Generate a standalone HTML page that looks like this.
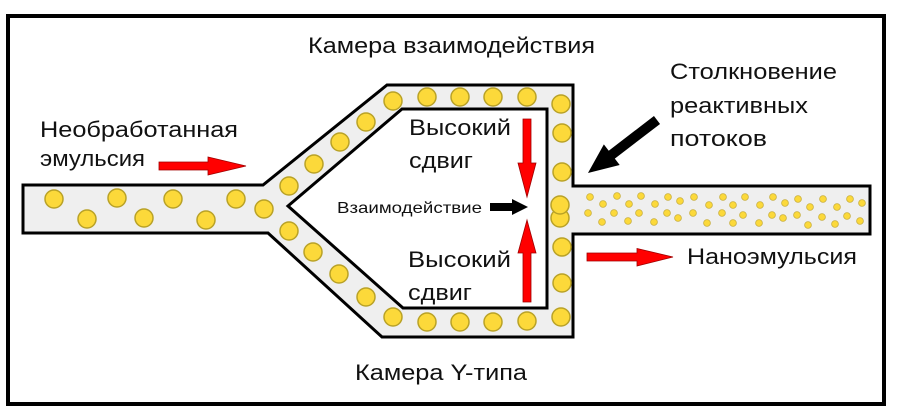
<!DOCTYPE html>
<html><head><meta charset="utf-8"><style>
html,body{margin:0;padding:0;background:#fff;}
svg{display:block;}
text{font-family:"Liberation Sans","DejaVu Sans",sans-serif;fill:#111;}
</style></head><body>
<svg width="900" height="416" viewBox="0 0 900 416" xmlns="http://www.w3.org/2000/svg">
<rect x="0" y="0" width="900" height="416" fill="#fff"/>
<rect x="8" y="16" width="876" height="388" fill="none" stroke="#000" stroke-width="4"/>

<!-- channel -->
<path fill-rule="evenodd" fill="#efefef" stroke="#000" stroke-width="3" stroke-linejoin="miter"
 d="M23,185 L263,185 L387,85 L573,85 L573,186 L870,186 L870,234 L573,234 L573,337 L382,337 L268,233 L23,233 Z
    M288,206 L402,109 L547,109 L547,308 L403,308 Z"/>

<g fill="#fcd93a" stroke="#b9a227" stroke-width="1.5">
<circle cx="54" cy="199" r="9"/>
<circle cx="87" cy="219" r="9"/>
<circle cx="117" cy="198" r="9"/>
<circle cx="144" cy="218" r="9"/>
<circle cx="173" cy="199" r="9"/>
<circle cx="206" cy="220" r="9"/>
<circle cx="236" cy="199" r="9"/>
<circle cx="264" cy="209" r="9"/>
<circle cx="289" cy="186" r="9"/>
<circle cx="314" cy="164" r="9"/>
<circle cx="340" cy="142" r="9"/>
<circle cx="366" cy="122" r="9"/>
<circle cx="393" cy="101" r="9"/>
<circle cx="427" cy="97" r="9"/>
<circle cx="460" cy="97" r="9"/>
<circle cx="493" cy="97" r="9"/>
<circle cx="527" cy="97" r="9"/>
<circle cx="561" cy="104" r="9"/>
<circle cx="562" cy="133" r="9"/>
<circle cx="562" cy="172" r="9"/>
<circle cx="560" cy="218" r="9"/>
<circle cx="560" cy="205" r="9"/>
<circle cx="562" cy="247" r="9"/>
<circle cx="562" cy="283" r="9"/>
<circle cx="561" cy="317" r="9"/>
<circle cx="527" cy="321" r="9"/>
<circle cx="493" cy="322" r="9"/>
<circle cx="460" cy="322" r="9"/>
<circle cx="427" cy="322" r="9"/>
<circle cx="393" cy="317" r="9"/>
<circle cx="366" cy="297" r="9"/>
<circle cx="339" cy="274" r="9"/>
<circle cx="313" cy="252" r="9"/>
<circle cx="289" cy="231" r="9"/>
</g>
<g fill="#fcd93a" stroke="#c9b040" stroke-width="0.8">
<circle cx="590" cy="197" r="3.4"/><circle cx="603" cy="204" r="3.4"/><circle cx="588" cy="213" r="3.4"/><circle cx="602" cy="222" r="3.4"/>
<circle cx="617" cy="196" r="3.4"/><circle cx="629" cy="204" r="3.4"/><circle cx="614" cy="213" r="3.4"/><circle cx="628" cy="221" r="3.4"/>
<circle cx="641" cy="196" r="3.4"/><circle cx="655" cy="204" r="3.4"/><circle cx="639" cy="213" r="3.4"/><circle cx="654" cy="222" r="3.4"/>
<circle cx="668" cy="197" r="3.4"/><circle cx="680" cy="201" r="3.4"/><circle cx="667" cy="213" r="3.4"/><circle cx="678" cy="218" r="3.4"/>
<circle cx="694" cy="197" r="3.4"/><circle cx="709" cy="205" r="3.4"/><circle cx="693" cy="213" r="3.4"/><circle cx="707" cy="223" r="3.4"/>
<circle cx="723" cy="197" r="3.4"/><circle cx="733" cy="205" r="3.4"/><circle cx="722" cy="213" r="3.4"/><circle cx="733" cy="223" r="3.4"/>
<circle cx="745" cy="197" r="3.4"/><circle cx="760" cy="205" r="3.4"/><circle cx="743" cy="215" r="3.4"/><circle cx="759" cy="223" r="3.4"/>
<circle cx="773" cy="197" r="3.4"/><circle cx="785" cy="203" r="3.4"/><circle cx="772" cy="215" r="3.4"/><circle cx="783" cy="218" r="3.4"/>
<circle cx="798" cy="199" r="3.4"/><circle cx="810" cy="207" r="3.4"/><circle cx="797" cy="215" r="3.4"/><circle cx="808" cy="225" r="3.4"/>
<circle cx="823" cy="199" r="3.4"/><circle cx="837" cy="207" r="3.4"/><circle cx="822" cy="217" r="3.4"/><circle cx="835" cy="224" r="3.4"/>
<circle cx="850" cy="199" r="3.4"/><circle cx="862" cy="203" r="3.4"/><circle cx="847" cy="216" r="3.4"/><circle cx="860" cy="221" r="3.4"/>
</g>

<!-- red arrows -->
<g fill="#ff0000" stroke="#a00000" stroke-width="0.8">
<polygon points="159,162 208,162 208,157 246,166 208,175 208,170 159,170"/>
<polygon points="587,253 637,253 637,248.5 673,257 637,266 637,261 587,261"/>
<polygon points="523,119 531,119 531,163 536,163 527,197 518,163 523,163"/>
<polygon points="523,302 531,302 531,253 536,253 527,220 518,253 523,253"/>
</g>

<!-- black arrows -->
<polygon fill="#000" points="490,203 512,203 512,199 528,207 512,215 512,211 490,211"/>
<polygon fill="#000" transform="translate(657,120) rotate(142.5)" points="0,-5 57,-5 57,-13 87,0 57,13 57,5 0,5"/>

<!-- labels -->
<text x="308" y="53" font-size="22" textLength="287" lengthAdjust="spacingAndGlyphs">Камера взаимодействия</text>
<text x="355" y="380" font-size="22" textLength="172" lengthAdjust="spacingAndGlyphs">Камера Y-типа</text>
<text x="40" y="137" font-size="22" textLength="198" lengthAdjust="spacingAndGlyphs">Необработанная</text>
<text x="40" y="166" font-size="22" textLength="105" lengthAdjust="spacingAndGlyphs">эмульсия</text>
<text x="670" y="79" font-size="22" textLength="167" lengthAdjust="spacingAndGlyphs">Столкновение</text>
<text x="670" y="113" font-size="22" textLength="138" lengthAdjust="spacingAndGlyphs">реактивных</text>
<text x="670" y="146" font-size="22" textLength="97" lengthAdjust="spacingAndGlyphs">потоков</text>
<text x="409" y="135" font-size="22" textLength="102" lengthAdjust="spacingAndGlyphs">Высокий</text>
<text x="409" y="168" font-size="22" textLength="64" lengthAdjust="spacingAndGlyphs">сдвиг</text>
<text x="408" y="267" font-size="22" textLength="103" lengthAdjust="spacingAndGlyphs">Высокий</text>
<text x="408" y="300" font-size="22" textLength="64" lengthAdjust="spacingAndGlyphs">сдвиг</text>
<text x="337" y="213" font-size="16" textLength="145" lengthAdjust="spacingAndGlyphs">Взаимодействие</text>
<text x="687" y="264" font-size="22" textLength="170" lengthAdjust="spacingAndGlyphs">Наноэмульсия</text>
</svg>
</body></html>
